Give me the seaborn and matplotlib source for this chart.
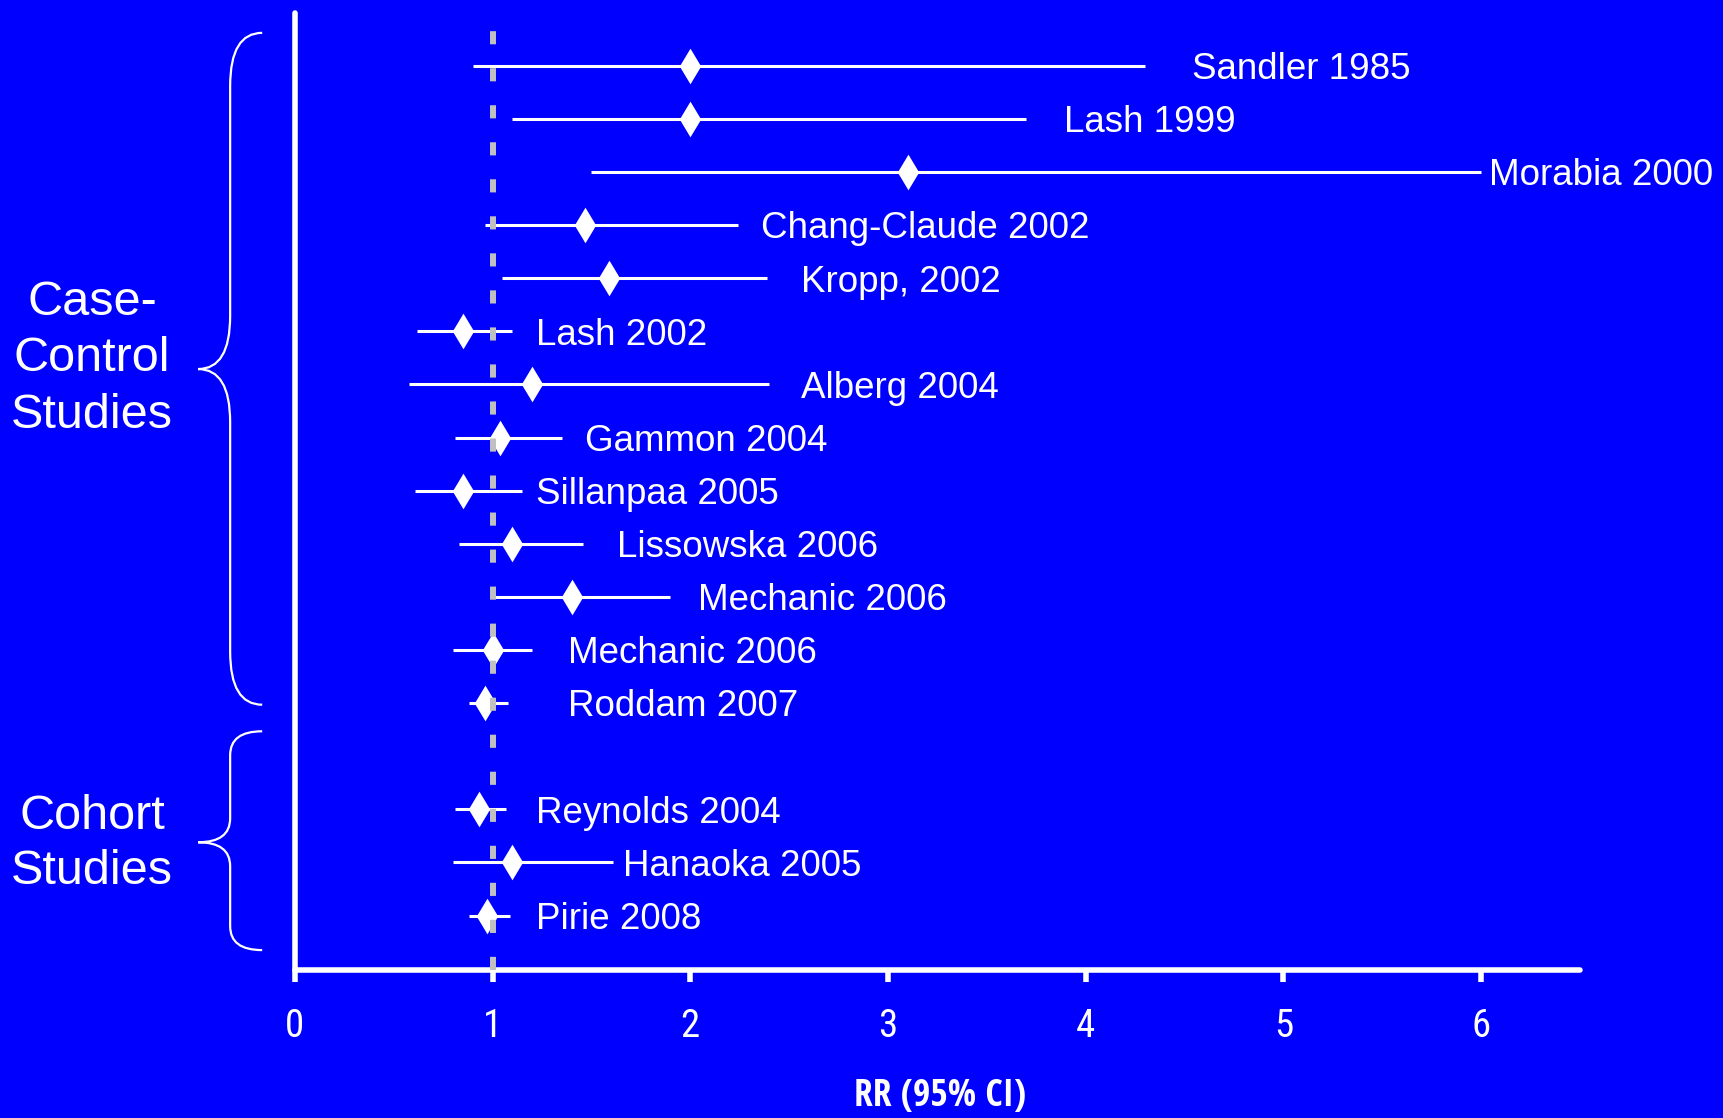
from __future__ import annotations

import pandas as pd
import seaborn as sns
import matplotlib.pyplot as plt
from matplotlib import font_manager
from matplotlib.path import Path
from matplotlib.patches import PathPatch

# Data
studies = [
    "Sandler 1985", "Lash 1999", "Morabia 2000", "Chang-Claude 2002",
    "Kropp, 2002", "Lash 2002", "Alberg 2004", "Gammon 2004",
    "Sillanpaa 2005", "Lissowska 2006", "Mechanic 2006", "Mechanic 2006",
    "Roddam 2007", "Reynolds 2004", "Hanaoka 2005", "Pirie 2008",
]
design = ["Case-Control"] * 13 + ["Cohort"] * 3
rr = [2.0, 2.0, 3.1, 1.47, 1.59, 0.85, 1.2, 1.04, 0.85, 1.1, 1.4, 1.0,
      0.96, 0.93, 1.1, 0.97]
ci_low = [0.9, 1.1, 1.5, 0.96, 1.05, 0.62, 0.58, 0.81, 0.61, 0.83, 1.0,
          0.8, 0.88, 0.81, 0.8, 0.88]
ci_high = [4.3, 3.7, 6.0, 2.24, 2.39, 1.1, 2.4, 1.35, 1.15, 1.46, 1.9,
           1.2, 1.08, 1.07, 1.61, 1.09]
# where each study name starts, in RR units
label_x = [4.54, 3.89, 6.04, 2.36, 2.56, 1.22, 2.56, 1.47, 1.22, 1.63,
           2.04, 1.38, 1.38, 1.22, 1.66, 1.22]
x_ticks = [0, 1, 2, 3, 4, 5, 6]

BLUE = "#0000FF"
WHITE = "white"
GREY = "#C0C0C0"


def narrow_font(bold: bool):
    """Look for an installed condensed sans face; None if there is none."""
    best = None
    for f in font_manager.fontManager.ttflist:
        name = f.name.lower()
        stretch = str(f.stretch).lower()
        narrow = ("narrow" in name or "condensed" in name
                  or "condensed" in stretch
                  or (stretch.isdigit() and int(stretch) <= 400))
        if not narrow or "semi" in stretch or "extra" in stretch \
                or "semi" in name or "extra" in name:
            continue
        is_bold = (f.weight == "bold" or
                   (isinstance(f.weight, int) and f.weight >= 700))
        if is_bold != bold or f.style != "normal":
            continue
        if "liberation" in name:
            rank = 0
        elif "noto" in name or "roboto" in name or "open" in name:
            rank = 1
        elif "dejavu" in name:
            rank = 2
        else:
            rank = 3
        if best is None or rank < best[0]:
            best = (rank, f.fname)
    return font_manager.FontProperties(fname=best[1]) if best else None


def brace(ax, y_top, y_tip, y_bot, r):
    x_end, x_spine, x_tip = -0.165, -0.327, -0.489
    verts = [
        (x_end, y_top), (x_spine, y_top), (x_spine, y_top + r),
        (x_spine, y_tip - r), (x_spine, y_tip), (x_tip, y_tip),
        (x_spine, y_tip), (x_spine, y_tip + r),
        (x_spine, y_bot - r), (x_spine, y_bot), (x_end, y_bot),
    ]
    codes = [
        Path.MOVETO, Path.CURVE3, Path.CURVE3,
        Path.LINETO, Path.CURVE3, Path.CURVE3,
        Path.CURVE3, Path.CURVE3,
        Path.LINETO, Path.CURVE3, Path.CURVE3,
    ]
    patch = PathPatch(Path(verts, codes), facecolor="none", edgecolor=WHITE,
                      lw=1.6, clip_on=False, transform=ax.transData)
    ax.add_patch(patch)


def main() -> None:
    df = pd.DataFrame({
        "study": studies, "design": design, "rr": rr,
        "lo": ci_low, "hi": ci_high, "label_x": label_x,
    })
    # one empty row between the two groups
    df["row"] = df.index + (df["design"] == "Cohort").astype(int)

    sns.set_theme(style="white")
    plt.rcParams["font.family"] = ["Liberation Sans", "DejaVu Sans"]

    tick_fp = narrow_font(bold=False)
    label_fp = narrow_font(bold=True)
    if tick_fp is not None:
        tick_fp.set_size(28)
    else:
        tick_fp = font_manager.FontProperties(family="Liberation Sans",
                                              size=26)
    if label_fp is not None:
        label_fp.set_size(27)
    else:
        label_fp = font_manager.FontProperties(family="Liberation Sans",
                                               weight="bold", size=23)

    fig = plt.figure(figsize=(17.24, 11.18), dpi=100, facecolor=BLUE)
    ax = fig.add_axes([0.171, 0.1326, 0.7455, 0.8556])
    ax.set_facecolor(BLUE)

    ax.hlines(df["row"], df["lo"], df["hi"], color=WHITE, lw=2.2, zorder=2)
    sns.scatterplot(data=df, x="rr", y="row", marker="d", s=330,
                    color=WHITE, edgecolor=WHITE, linewidth=0, ax=ax,
                    zorder=3, legend=False)
    ax.axvline(1, color=GREY, lw=4.3, dashes=(2.2, 4.0), zorder=4,
               solid_capstyle="butt", dash_capstyle="butt")

    for _, r in df.iterrows():
        ax.text(r["label_x"], r["row"] + 0.25, r["study"], color=WHITE,
                fontsize=26.5, ha="left", va="baseline")

    ax.set_xlim(0, 6.5)
    ax.set_ylim(17.02, -0.99)
    ax.set_xticks(x_ticks)
    ax.set_xticklabels([str(t) for t in x_ticks], fontproperties=tick_fp,
                       color=WHITE)
    ax.set_yticks([])
    ax.set_xlabel("")
    ax.set_ylabel("")
    ax.tick_params(axis="x", direction="out", length=8.5, width=4,
                   color=WHITE, pad=19, bottom=True)
    for t in ax.xaxis.get_major_ticks():
        t.tick1line.set_solid_capstyle("round")
    for side in ["top", "right"]:
        ax.spines[side].set_visible(False)
    for side in ["left", "bottom"]:
        ax.spines[side].set_color(WHITE)
        ax.spines[side].set_linewidth(4)
        ax.spines[side].set_capstyle("round")

    brace(ax, -0.62, 5.71, 12.03, 1.0)
    brace(ax, 12.53, 14.62, 16.65, 0.45)

    fig.text(0.0534, 0.679, "Case-\nControl\nStudies", color=WHITE,
             fontsize=35, ha="center", va="center", multialignment="center",
             linespacing=1.32)
    fig.text(0.0534, 0.245, "Cohort\nStudies", color=WHITE,
             fontsize=35, ha="center", va="center", multialignment="center",
             linespacing=1.3)
    fig.text(0.545, 0.011, "RR (95% CI)", color=WHITE,
             fontproperties=label_fp, ha="center", va="baseline")

    fig.savefig("out.png", dpi=100, facecolor=BLUE)
    plt.close(fig)


if __name__ == "__main__":
    main()
